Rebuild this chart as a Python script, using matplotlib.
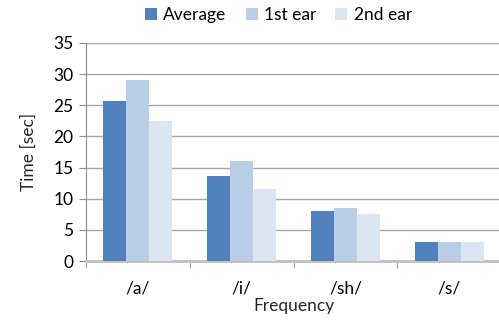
import matplotlib
matplotlib.use("Agg")
import matplotlib.pyplot as plt
import numpy as np

categories = ["/a/", "/i/", "/sh/", "/s/"]
average = [25.7, 13.7, 8.0, 3.0]
first_ear = [29.0, 16.0, 8.5, 3.0]
second_ear = [22.5, 11.5, 7.5, 3.0]
series_names = ["Average", "1st ear", "2nd ear"]
colors = ["#4F81BD", "#B9CDE5", "#DCE6F2"]
yticks = [0, 5, 10, 15, 20, 25, 30, 35]

plt.rcParams["font.family"] = ["Lato", "DejaVu Sans"]

fig = plt.figure(figsize=(4.99, 3.20), dpi=100)
ax = fig.add_axes([0.1723, 0.184, 0.832, 0.682])

x = np.arange(len(categories))
w = 0.222
for i, (vals, name, col) in enumerate(zip([average, first_ear, second_ear], series_names, colors)):
    ax.bar(x + (i - 1) * w, vals, width=w, color=col, label=name, zorder=3)

ax.set_xlim(-0.5, len(categories) - 0.5)
ax.set_ylim(0, 35)
ax.set_yticks(yticks)
ax.set_xticks(x)
ax.set_xticklabels(categories)
ax.set_xticks(np.arange(len(categories) + 1) - 0.5, minor=True)

ax.yaxis.grid(True, color="#A6A6A6", linewidth=1.0, zorder=0)
ax.set_axisbelow(True)
for s in ["top", "right"]:
    ax.spines[s].set_visible(False)
ax.spines["left"].set_color("#8C8C8C")
ax.spines["bottom"].set_color("#BFBFBF")
ax.spines["bottom"].set_linewidth(2.0)

ax.tick_params(axis="y", length=5, color="#8C8C8C", labelsize=12.5, pad=4, direction="out")
ax.tick_params(axis="x", which="major", length=0, labelsize=12.5, pad=14)
ax.tick_params(axis="x", which="minor", length=5, color="#8C8C8C", direction="out")

ax.set_ylabel("Time [sec]", fontsize=12.5, labelpad=12, color="#262626")
ax.set_xlabel("Frequency", fontsize=12.5, labelpad=1, color="#262626")

fig.legend(loc="center", bbox_to_anchor=(0.558, 0.953), ncol=3, frameon=False,
           fontsize=12.5, handlelength=0.7, handleheight=0.7, handletextpad=0.35,
           columnspacing=1.1)

fig.savefig("out.png", dpi=100)
